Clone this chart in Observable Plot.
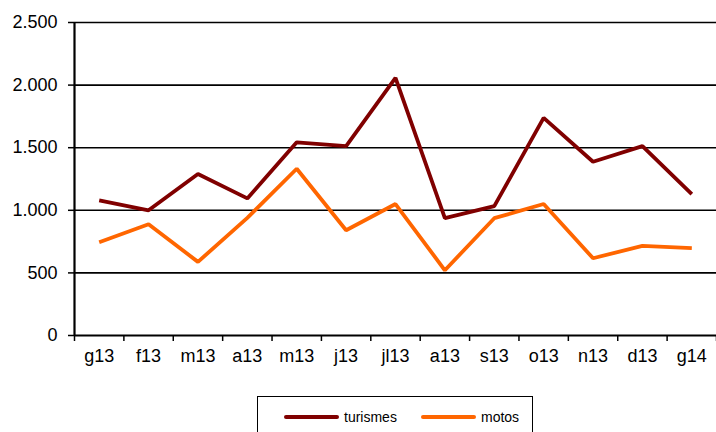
<!DOCTYPE html>
<html>
<head>
<meta charset="utf-8">
<script src="https://cdn.jsdelivr.net/npm/d3@7"></script>
<script src="https://cdn.jsdelivr.net/npm/@observablehq/plot@0.6"></script>
<style>
  html, body { margin: 0; padding: 0; background: #fff; }
  body { width: 716px; height: 432px; position: relative; overflow: hidden; font-family: "Liberation Sans", Arial, sans-serif; }
  #legend { position: absolute; left: 257px; top: 396px; width: 276px; height: 60px; border: 1px solid #000; box-sizing: border-box; }
  .item { position: absolute; top: 12px; display: flex; align-items: center; font-size: 14px; color: #000; }
  .sw { display: inline-block; width: 55px; height: 3.5px; border-radius: 2px; margin-right: 5px; }
</style>
</head>
<body>
<div id="chart"></div>
<div id="legend"></div>
<script>
const months = ["g13","f13","m13","a13","m13","j13","jl13","a13","s13","o13","n13","d13","g14"];
const turismes = [1080, 1000, 1290, 1095, 1543, 1512, 2058, 938, 1033, 1738, 1388, 1513, 1130];
const motos = [745, 889, 588, 940, 1332, 841, 1050, 521, 937, 1050, 617, 716, 698];
const seriesNames = ["turismes", "motos"];
const seriesColors = ["#800000", "#FF6600"];
const yTicks = [0, 500, 1000, 1500, 2000, 2500];
const gridValues = [500, 1000, 1500, 2000, 2500];

const rows = [];
months.forEach((m, i) => {
  rows.push({i, month: m, series: "turismes", value: turismes[i]});
  rows.push({i, month: m, series: "motos", value: motos[i]});
});

const fmt = d3.formatLocale({decimal: ",", thousands: ".", grouping: [3], currency: ["", ""]}).format(",");
const boundaries = d3.range(months.length + 1).map(k => k - 0.5);

const chart = Plot.plot({
  width: 716,
  height: 385,
  marginLeft: 74,
  marginRight: 0,
  marginTop: 22,
  marginBottom: 50,
  style: {fontFamily: "Liberation Sans, Arial, sans-serif", fontSize: "18px", color: "#000", background: "#fff"},
  x: {type: "linear", domain: [-0.5, months.length - 0.5]},
  y: {domain: [0, 2500]},
  color: {domain: seriesNames, range: seriesColors},
  marks: [
    Plot.ruleY(gridValues, {stroke: "#000", strokeWidth: 1.6}),
    Plot.axisY(yTicks, {tickSize: 6, tickPadding: 11, tickFormat: fmt, fontSize: 18, label: null, stroke: "#000", strokeWidth: 1.5}),
    Plot.axisX(boundaries, {tickSize: 6, tickFormat: () => "", label: null, stroke: "#000", strokeWidth: 1.5}),
    Plot.axisX(d3.range(months.length), {tickSize: 0, tickPadding: 14, tickFormat: i => months[i], fontSize: 18, label: null}),
    Plot.line(rows, {x: "i", y: "value", z: "series", stroke: "series", strokeWidth: 3.8, strokeLinejoin: "miter", strokeLinecap: "butt"}),
    Plot.ruleX([-0.5], {stroke: "#000", strokeWidth: 2.2}),
    Plot.ruleY([0], {stroke: "#000", strokeWidth: 2.2})
  ]
});
document.getElementById("chart").appendChild(chart);

const legend = document.getElementById("legend");
const lefts = [26, 163];
seriesNames.forEach((name, k) => {
  const item = document.createElement("div");
  item.className = "item";
  item.style.left = lefts[k] + "px";
  const sw = document.createElement("span");
  sw.className = "sw";
  sw.style.background = seriesColors[k];
  item.appendChild(sw);
  item.appendChild(document.createTextNode(name));
  legend.appendChild(item);
});
</script>
</body>
</html>
